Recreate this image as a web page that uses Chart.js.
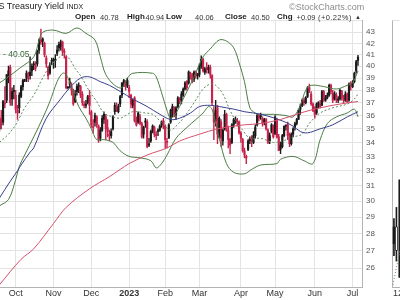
<!DOCTYPE html>
<html>
<head>
<meta charset="utf-8">
<script src="https://cdn.jsdelivr.net/npm/chart.js@4.4.0/dist/chart.umd.min.js"></script>
<style>
  html, body { margin: 0; padding: 0; background: #fff; width: 400px; height: 300px; overflow: hidden; }
  body { position: relative; font-family: "Liberation Sans", Arial, sans-serif; }
  #main { position: absolute; left: 0; top: 0; }
  #sideFrame { position: absolute; left: 392px; top: 20px; width: 20px; height: 266px;
               border-left: 1px solid #b4b4b4; border-top: 1px solid #e3e3e3; border-bottom: 1px solid #b4b4b4; }
  .t { position: absolute; white-space: nowrap; line-height: 1; color: #222; }
  .b { font-weight: bold; font-size: 8px; }
  .v { font-size: 7.5px; color: #333; }
</style>
</head>
<body>
<div id="sideFrame"></div>
<canvas id="main" width="400" height="300"></canvas>

<div class="t" style="left:-1.5px;top:2.4px;font-size:9px;">S Treasury Yield <span style="font-size:7px">INDX</span></div>
<div class="t" style="left:289px;top:3.4px;font-size:9px;color:#8c8c8c;">©StockCharts.com</div>
<div class="t b" style="left:75px;top:13.2px;">Open</div>
<div class="t v" style="left:100px;top:13.6px;">40.78</div>
<div class="t b" style="left:127px;top:13.2px;">High</div>
<div class="t v" style="left:145.5px;top:13.6px;">40.94</div>
<div class="t b" style="left:166px;top:13.2px;">Low</div>
<div class="t v" style="left:195px;top:13.6px;">40.06</div>
<div class="t b" style="left:225px;top:13.2px;">Close</div>
<div class="t v" style="left:251px;top:13.6px;">40.50</div>
<div class="t b" style="left:277px;top:13.2px;">Chg</div>
<div class="t v" style="left:296.5px;top:13.6px;">+0.09</div>
<div class="t v" style="left:318px;top:13.6px;letter-spacing:0.4px;">(+0.22%)</div>
<div class="t" style="left:355px;top:14px;font-size:6px;color:#333;">▲</div>
<div class="t" style="left:3px;top:50px;font-size:8.5px;color:#3b6b3b;">- 40.05</div>
<div class="t" style="left:393px;top:289.4px;font-size:9px;color:#333;">12</div>

<script>
const FONT = '"Liberation Sans", Arial, sans-serif';

// trading day index: 0 = Oct 3 2022, first bar Sep 20 2022
const firstDay = -9;

const opens = [
  35.0, 35.8, 35.5, 37.0, 37.2, 39.2, 39.9, 37.3, 37.9, 37.6,
  36.4, 36.6, 37.5, 38.3, 38.8, 39.0, 39.3, 39.2, 39.6, 40.2,
  39.8, 40.2, 41.4, 42.3, 42.2, 42.0, 40.7, 39.9, 39.4, 40.4,
  40.6, 40.5, 41.1, 41.9, 41.7, 42.1, 41.2, 40.8, 38.2, 38.5,
  38.3, 37.9, 37.1, 37.9, 38.3, 38.3, 37.7, 36.9, 36.9, 37.0,
  37.6, 36.3, 35.1, 35.5, 35.9, 35.2, 34.3, 34.9, 35.7, 35.9,
  35.1, 34.6, 34.5, 35.0, 36.3, 36.7, 36.3, 36.9, 37.6, 38.6,
  38.7, 38.4, 38.2, 37.6, 36.8, 37.4, 35.6, 35.5, 35.9, 35.4,
  34.6, 35.5, 35.5, 33.8, 34.1, 34.8, 35.1, 34.6, 34.8, 34.9,
  35.3, 35.6, 35.2, 34.0, 34.3, 35.5, 36.4, 36.6, 36.1, 36.7,
  37.4, 37.2, 37.6, 38.1, 38.7, 38.6, 39.4, 39.2, 38.9, 39.5,
  39.2, 39.3, 40.0, 40.6, 39.5, 39.8, 39.7, 39.9, 39.2, 36.2,
  35.6, 36.6, 34.4, 35.5, 34.1, 35.0, 36.1, 34.9, 34.2, 34.0,
  35.3, 35.6, 35.6, 35.5, 34.7, 34.2, 33.4, 33.0, 33.5, 34.1,
  34.3, 34.0, 34.5, 35.3, 36.0, 35.9, 35.8, 35.5, 35.7, 34.9,
  34.1, 34.8, 35.2, 34.6, 35.7, 34.4, 33.5, 33.7, 34.5, 35.2,
  35.3, 34.6, 33.9, 34.6, 35.1, 35.4, 35.7, 36.5, 36.8, 37.2,
  37.0, 37.5, 38.2, 37.7, 36.9, 36.5, 36.2, 37.0, 36.9, 36.8,
  37.9, 37.2, 37.4, 37.6, 38.4, 37.8, 37.3, 37.6, 37.3, 37.3,
  37.9, 37.4, 37.2, 37.7, 37.2, 38.5, 38.3, 38.7, 39.6, 40.78
];
const highs = [
  36.0, 36.4, 37.2, 38.3, 39.3, 40.0, 40.1, 38.2, 38.4, 38.0,
  36.8, 37.8, 38.4, 38.9, 38.9, 39.6, 39.5, 40.8, 40.2, 40.4,
  40.4, 41.4, 42.4, 43.3, 42.5, 42.1, 40.9, 40.0, 40.3, 40.7,
  40.7, 41.0, 41.8, 42.1, 42.3, 42.2, 41.5, 40.9, 38.3, 39.0,
  38.6, 38.1, 38.0, 38.5, 38.6, 38.4, 37.9, 37.1, 37.2, 37.6,
  38.0, 36.4, 35.7, 36.2, 36.0, 35.3, 35.1, 36.0, 36.3, 36.1,
  35.7, 34.9, 35.0, 36.0, 37.0, 37.0, 36.9, 37.6, 38.6, 38.9,
  38.8, 39.0, 38.4, 37.7, 37.3, 37.5, 35.9, 36.3, 36.1, 35.5,
  35.2, 35.8, 35.7, 34.3, 34.9, 35.3, 35.2, 34.8, 35.0, 35.3,
  35.6, 35.8, 35.3, 34.3, 35.4, 36.5, 36.9, 36.7, 36.7, 37.5,
  37.4, 37.9, 38.2, 38.7, 38.8, 39.6, 39.5, 39.4, 39.6, 39.6,
  39.4, 40.2, 40.9, 40.7, 39.9, 40.3, 40.1, 40.1, 39.3, 36.7,
  37.2, 36.8, 35.9, 35.7, 35.0, 36.4, 36.2, 35.2, 34.3, 35.4,
  35.8, 35.9, 35.8, 35.6, 34.8, 34.3, 33.6, 33.1, 34.2, 34.4,
  34.5, 34.8, 35.3, 36.1, 36.1, 36.2, 35.9, 35.8, 35.8, 35.0,
  34.7, 35.4, 35.3, 36.0, 35.8, 34.6, 34.0, 34.6, 35.2, 35.3,
  35.5, 34.7, 34.7, 35.1, 35.5, 35.8, 36.5, 36.9, 37.3, 37.4,
  37.5, 38.3, 38.5, 37.9, 37.0, 36.7, 37.0, 37.1, 37.2, 38.0,
  38.0, 37.6, 37.8, 38.5, 38.5, 38.0, 37.9, 37.8, 37.5, 38.1,
  38.0, 37.6, 37.9, 37.8, 38.6, 38.7, 38.8, 39.5, 40.5, 40.94
];
const lows = [
  34.8, 35.0, 35.3, 36.6, 37.0, 38.6, 36.8, 36.8, 37.3, 36.2,
  35.7, 36.2, 37.4, 38.0, 38.7, 38.7, 38.7, 38.9, 39.2, 39.7,
  39.6, 40.0, 41.1, 41.9, 41.7, 40.8, 39.9, 38.9, 39.3, 40.1,
  39.8, 39.9, 40.9, 41.3, 41.4, 40.9, 40.7, 38.1, 38.1, 38.2,
  37.6, 36.8, 37.0, 37.6, 37.8, 37.4, 36.8, 36.6, 36.6, 36.9,
  36.1, 35.1, 34.7, 35.2, 35.1, 34.0, 34.1, 34.8, 35.4, 34.2,
  34.4, 34.1, 34.3, 34.9, 36.1, 36.3, 36.2, 36.7, 37.4, 38.3,
  38.0, 38.2, 37.4, 36.6, 36.6, 35.5, 35.2, 35.4, 35.3, 34.3,
  34.3, 35.1, 33.6, 33.7, 34.0, 34.7, 34.4, 34.2, 34.5, 34.8,
  35.1, 35.0, 33.6, 33.6, 34.3, 35.4, 35.9, 35.9, 35.7, 36.6,
  36.9, 36.9, 37.5, 38.0, 38.0, 38.5, 38.9, 38.6, 38.7, 39.0,
  38.9, 39.1, 39.8, 39.5, 39.3, 39.4, 39.4, 39.0, 36.8, 34.2,
  35.2, 33.9, 34.3, 33.7, 33.8, 34.9, 34.8, 33.6, 33.2, 33.9,
  35.1, 35.4, 35.2, 34.6, 34.0, 33.3, 32.9, 32.5, 33.4, 33.9,
  33.7, 33.9, 34.3, 35.2, 35.6, 35.7, 35.2, 35.3, 34.9, 33.9,
  33.9, 34.7, 34.3, 34.6, 34.3, 33.4, 33.2, 33.6, 34.4, 34.9,
  34.2, 33.7, 33.8, 34.4, 34.9, 35.3, 35.7, 36.1, 36.7, 36.8,
  36.9, 37.4, 37.8, 36.8, 36.3, 35.8, 36.1, 36.6, 36.6, 36.8,
  37.1, 37.1, 37.3, 37.5, 37.7, 37.0, 37.2, 37.0, 37.0, 37.2,
  37.2, 37.0, 37.1, 37.0, 37.1, 38.0, 38.2, 38.6, 39.4, 40.06
];
const closes = [
  35.7, 35.3, 37.1, 36.9, 39.3, 39.6, 37.0, 37.9, 38.0, 36.5,
  36.2, 37.6, 38.3, 38.8, 38.8, 39.4, 39.0, 39.5, 40.0, 40.1,
  40.0, 41.3, 42.3, 42.1, 42.4, 41.0, 40.2, 39.2, 40.1, 40.5,
  40.5, 40.6, 41.4, 41.6, 42.1, 41.3, 41.2, 38.2, 38.2, 38.7,
  38.0, 36.9, 37.7, 38.3, 38.3, 37.6, 37.0, 36.8, 36.8, 37.5,
  36.8, 35.3, 35.1, 36.0, 35.3, 34.2, 34.9, 35.8, 36.1, 35.0,
  34.8, 34.5, 34.8, 35.9, 36.8, 36.5, 36.7, 37.5, 38.6, 38.8,
  38.3, 38.8, 37.9, 36.9, 37.2, 35.6, 35.3, 36.2, 35.4, 34.4,
  35.1, 35.5, 33.7, 33.9, 34.8, 35.2, 34.6, 34.5, 34.9, 35.2,
  35.5, 35.2, 34.2, 34.0, 35.3, 36.4, 36.7, 36.1, 36.6, 37.4,
  37.1, 37.7, 38.1, 38.6, 38.2, 39.5, 39.2, 38.8, 39.5, 39.2,
  39.2, 40.0, 40.6, 39.6, 39.8, 39.7, 39.9, 39.3, 37.0, 35.5,
  36.4, 34.6, 35.8, 34.3, 34.9, 36.1, 34.9, 34.2, 33.8, 35.3,
  35.7, 35.7, 35.5, 34.7, 34.3, 33.4, 33.1, 32.9, 34.1, 34.3,
  34.1, 34.5, 35.1, 36.0, 35.8, 35.9, 35.4, 35.7, 35.0, 34.0,
  34.5, 35.3, 34.4, 35.9, 34.4, 33.4, 33.8, 34.5, 35.2, 35.2,
  34.5, 33.9, 34.6, 35.0, 35.4, 35.7, 36.4, 36.7, 37.2, 37.0,
  37.4, 38.2, 38.0, 36.9, 36.4, 36.1, 36.9, 36.9, 36.7, 37.9,
  37.2, 37.4, 37.6, 38.4, 37.9, 37.2, 37.7, 37.2, 37.2, 38.0,
  37.4, 37.2, 37.7, 37.1, 38.5, 38.4, 38.6, 39.4, 40.4, 40.50
];

// overlays as [day index, value]
const bbUpper = [[-9,38.6],[-5,39.0],[2,39.8],[10,40.8],[13,42.3],[15,43.0],[21,43.2],[28,42.9],[34,43.4],[39,42.9],[44,42.3],[47,40.8],[50,39.3],[55,38.4],[59,38.2],[62,39.0],[65,39.4],[76,39.4],[78,39.1],[81,37.8],[84,36.4],[86,35.8],[89,36.2],[93,37.3],[99,39.1],[104,40.8],[108,41.5],[113,42.3],[117,42.2],[121,41.6],[124,40.3],[127,38.7],[130,36.6],[133,36.2],[136,36.1],[143,36.1],[150,36.0],[154,35.9],[158,36.8],[161,38.0],[164,38.4],[171,38.3],[178,38.1],[184,38.4],[187,38.6],[190,39.6]];
const bbLower = [[-9,29.7],[-4,30.1],[0,31.4],[2,32.3],[5,33.1],[10,34.4],[15,35.8],[19,37.1],[23,38.7],[26,39.4],[28,39.3],[31,38.2],[35,36.7],[39,35.8],[42,35.0],[45,34.2],[49,34.2],[54,34.0],[58,33.4],[63,33.0],[69,32.9],[75,32.7],[78,32.2],[81,32.5],[84,33.1],[89,34.3],[95,35.1],[100,35.7],[104,36.2],[107,36.7],[109,36.5],[113,34.3],[117,32.5],[121,31.9],[127,31.8],[131,32.1],[136,32.4],[145,32.5],[147,32.8],[154,33.0],[160,32.7],[165,32.5],[169,34.2],[173,35.4],[178,35.9],[184,36.2],[188,36.5],[190,35.9]];
const sma20 = [[-9,34.0],[-4,34.6],[0,35.3],[2,35.8],[5,36.6],[10,37.6],[15,39.0],[19,40.0],[23,40.6],[27,41.0],[30,40.6],[33,39.8],[36,39.2],[41,37.9],[45,37.1],[49,36.2],[54,35.9],[58,35.8],[61,36.0],[65,36.3],[72,36.2],[76,36.1],[80,35.6],[82,35.3],[86,34.9],[89,35.2],[93,35.8],[99,37.0],[104,38.1],[108,38.5],[111,38.4],[115,37.7],[119,36.4],[123,35.4],[126,34.9],[130,34.3],[136,34.3],[143,34.0],[148,34.1],[154,34.4],[159,34.6],[163,35.4],[169,36.2],[176,36.6],[184,36.9],[188,37.3],[190,37.7]];
const sma50 = [[-9,30.2],[-3,31.3],[1,32.0],[3,32.4],[8,33.3],[10,33.6],[17,35.8],[25,37.3],[30,38.2],[36,39.0],[41,39.1],[47,38.7],[52,38.4],[58,37.9],[65,37.3],[73,36.7],[80,36.1],[86,35.7],[91,35.8],[97,36.2],[102,36.7],[108,36.8],[113,36.7],[121,36.5],[127,36.3],[132,36.2],[139,36.0],[148,35.6],[154,35.2],[158,34.8],[162,34.7],[169,35.0],[176,35.3],[184,35.9],[190,36.3]];
const sma200 = [[-9,25.1],[3,26.5],[10,27.1],[21,28.6],[28,29.6],[41,30.8],[52,31.6],[58,32.1],[63,32.5],[73,33.1],[84,33.6],[91,34.1],[102,34.6],[112,35.0],[121,35.2],[127,35.3],[136,35.4],[147,35.7],[158,36.2],[169,36.6],[180,36.9],[190,37.1]];

const monthIdx = [0, 21, 42, 63, 83, 102, 125, 144, 166, 187];
const monthLabels = ["Oct", "Nov", "Dec", "2023", "Feb", "Mar", "Apr", "May", "Jun", "Jul"];
const yTicks = [26, 27, 28, 29, 30, 31, 32, 33, 34, 35, 36, 37, 38, 39, 40, 41, 42, 43];

// next panel, cut off at the right edge; its bars sit on their own x axis
const sideX = [0.3, 1.05, 1.9];
const sideLow = [26.7, 26.4, 25.5];
const sideHigh = [28.9, 29.6, 31.4];
const sideBodyLo = [27.4, 27.0, null];
const sideBodyHi = [28.4, 28.4, null];
const sideSignal = [[1.05, 31.9]];
const sideAvg = [[0, 25.1], [2.1, 27.0]];

const Y_MIN = 24.98, Y_MAX = 44.14;
const SIDE_MIN = -118, SIDE_MAX = -9.14;
const RED = "#c8234d", BLACK = "#1a1a1a", GRID = "#e3e3e3", EDGE = "#b4b4b4";

const days = closes.map((c, k) => firstDay + k);
const candleColors = closes.map((c, k) => {
  const prev = k > 0 ? closes[k - 1] : opens[k];
  return c >= prev ? BLACK : RED;
});

function pts(list) {
  return list.map(([x, y]) => ({ x, y }));
}

function overlay(list, color, dash) {
  return {
    type: "line",
    data: pts(list),
    borderColor: color,
    borderWidth: 1,
    borderDash: dash || [],
    pointRadius: 0,
    tension: 0.35,
    order: 1,
  };
}

function logTicks(scale) {
  scale.ticks = yTicks.concat([Y_MAX]).map((v) => ({ value: v }));
}

// non-grouped bars ignore barThickness, so widths are capped with maxBarThickness
new Chart(document.getElementById("main"), {
  type: "bar",
  data: {
    datasets: [
      {
        data: days.map((x, k) => ({ x, y: [lows[k], highs[k]] })),
        backgroundColor: candleColors,
        barPercentage: 1,
        categoryPercentage: 1,
        maxBarThickness: 0.75,
        grouped: false,
        order: 3,
      },
      {
        data: days.map((x, k) => ({
          x,
          y: [Math.min(opens[k], closes[k]), Math.max(opens[k], closes[k])],
        })),
        backgroundColor: candleColors,
        barPercentage: 1,
        categoryPercentage: 1,
        maxBarThickness: 1.5,
        minBarLength: 1,
        grouped: false,
        order: 2,
      },
      overlay(sma200, "#d4506c"),
      overlay(sma50, "#3a3f8e"),
      overlay(sma20, "#5c8a5c", [2, 2]),
      overlay(bbUpper, "#4d7d45"),
      overlay(bbLower, "#4d7d45"),
      {
        xAxisID: "xs",
        clip: false,
        data: sideX.map((x, k) => ({ x, y: [sideLow[k], sideHigh[k]] })),
        backgroundColor: BLACK,
        barPercentage: 1,
        categoryPercentage: 1,
        maxBarThickness: 1,
        grouped: false,
        order: 3,
      },
      {
        xAxisID: "xs",
        clip: false,
        data: sideX
          .filter((x, k) => sideBodyLo[k] !== null)
          .map((x, k) => ({ x, y: [sideBodyLo[k], sideBodyHi[k]] })),
        backgroundColor: ["#1a1a1a", "#ffffff"],
        borderColor: BLACK,
        borderWidth: 0.8,
        borderSkipped: false,
        barPercentage: 1,
        categoryPercentage: 1,
        maxBarThickness: 2.2,
        grouped: false,
        order: 2,
      },
      {
        type: "line",
        xAxisID: "xs",
        clip: false,
        data: pts(sideAvg),
        borderColor: "#5c8a5c",
        borderWidth: 1,
        borderDash: [1, 2],
        pointRadius: 0,
        order: 1,
      },
      {
        type: "line",
        xAxisID: "xs",
        clip: false,
        data: pts(sideSignal),
        showLine: false,
        pointStyle: "triangle",
        rotation: 180,
        pointRadius: 2.6,
        pointBorderColor: "#4d8a45",
        pointBorderWidth: 1,
        pointBackgroundColor: "rgba(0,0,0,0)",
        order: 0,
      },
    ],
  },
  options: {
    responsive: false,
    animation: false,
    events: [],
    // the signal marker would otherwise pad the plot area inward
    layout: { autoPadding: false, padding: { top: 20, left: 0, right: 0, bottom: 0 } },
    plugins: { legend: { display: false }, tooltip: { enabled: false } },
    scales: {
      x: {
        type: "linear",
        offset: false,
        min: -8.7,
        max: 192.5,
        afterBuildTicks: (s) => {
          s.ticks = monthIdx.map((v) => ({ value: v }));
        },
        afterFit: (s) => {
          s.height = 13;
        },
        ticks: {
          autoSkip: false,
          maxRotation: 0,
          padding: 1.5,
          color: "#333",
          font: (ctx) => ({
            family: FONT,
            size: 9,
            weight: ctx.tick && ctx.tick.value === 63 ? "bold" : "normal",
          }),
          callback: (v) => monthLabels[monthIdx.indexOf(v)],
        },
        grid: { color: GRID, drawTicks: false, offset: false },
        border: { color: EDGE },
      },
      xs: {
        type: "linear",
        position: "bottom",
        display: false,
        offset: false,
        min: SIDE_MIN,
        max: SIDE_MAX,
        afterBuildTicks: (s) => {
          s.ticks = [{ value: SIDE_MIN }, { value: SIDE_MAX }];
        },
        grid: { offset: false },
      },
      y: {
        type: "logarithmic",
        position: "right",
        min: Y_MIN,
        max: Y_MAX,
        afterBuildTicks: logTicks,
        afterFit: (s) => {
          s.width = 37.5;
        },
        ticks: {
          padding: 3.5,
          color: "#555",
          font: { family: FONT, size: 8 },
          callback: (v) => (yTicks.includes(v) ? String(v) : ""),
        },
        grid: { color: GRID, drawTicks: false },
        border: { color: EDGE },
      },
    },
  },
});
</script>
</body>
</html>
